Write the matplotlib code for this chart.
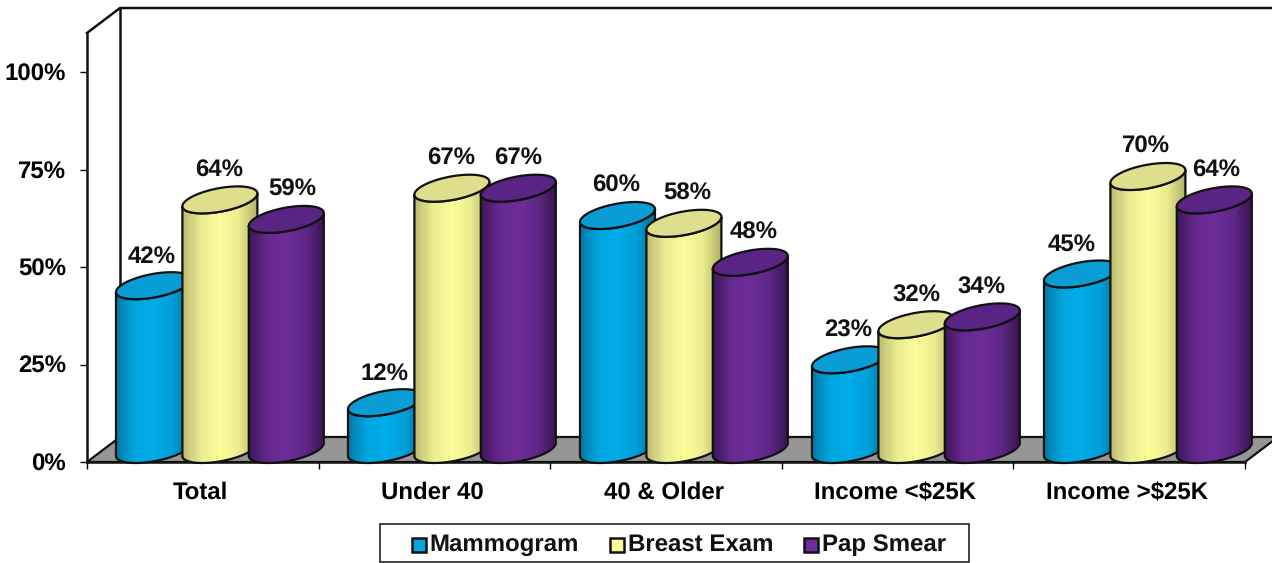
import numpy as np
import matplotlib
matplotlib.use("Agg")
import matplotlib.pyplot as plt
from matplotlib.colors import LinearSegmentedColormap
from matplotlib.path import Path
from matplotlib.patches import PathPatch, Polygon, Rectangle
from matplotlib.transforms import Affine2D

plt.rcParams["font.family"] = ["Liberation Sans", "DejaVu Sans"]
plt.rcParams["font.weight"] = "bold"
plt.rcParams["text.hinting"] = "no_hinting"
plt.rcParams["text.hinting_factor"] = 1

categories = ["Total", "Under 40", "40 & Older", "Income <$25K", "Income >$25K"]
series_names = ["Mammogram", "Breast Exam", "Pap Smear"]
mammogram = [42, 12, 60, 23, 45]
breast_exam = [64, 67, 58, 32, 70]
pap_smear = [59, 67, 48, 34, 64]
y_ticks = [0, 25, 50, 75, 100]
y_tick_labels = ["0%", "25%", "50%", "75%", "100%"]

W, H = 1272, 563
LEFT, RIGHT, BASE, TOP = 87, 1245, 462, 33
X_PX = (RIGHT - LEFT) / 5        # pixels per category
Y_PX = (BASE - TOP) / 110        # pixels per percent
GROUP_PX = 232

GRADS = {
    "Mammogram": ["#0478A8", "#00A6E0", "#00ACE8", "#00A0D8", "#056E9C"],
    "Breast Exam": ["#B9B970", "#ECEC92", "#FCFC9A", "#EEEE90", "#B4B46C"],
    "Pap Smear": ["#40185C", "#662A90", "#6E2C9A", "#5E2888", "#38144F"],
}
TOPS = {"Mammogram": "#0A9CD4", "Breast Exam": "#DEDE8C", "Pap Smear": "#5A2484"}
SWATCH = {"Mammogram": "#00A6E0", "Breast Exam": "#FCFC9A", "Pap Smear": "#6E2C9A"}
# small horizontal label shifts seen in the original, in pixels
LABEL_SHIFT = [[0, 1, 7], [0, 1, 1], [0, 5, 5], [0, 2, 1], [-8, 0, 3]]


def ellipse_xy(cx, cy, t):
    x = cx + (33 * np.cos(t) + 17.8 * np.sin(t)) / X_PX
    y = cy + 13.5 * np.sin(t) / Y_PX
    return x, y


def draw_cylinder(ax, x0, val, name, z):
    cx = x0 + 37.5 / X_PX
    off = 12.5 / Y_PX
    t_r = np.arctan2(17.8, 33)
    front = np.linspace(t_r + np.pi, t_r + 2 * np.pi, 60)
    bx, by = ellipse_xy(cx, off, front)
    tx, ty = ellipse_xy(cx, val + off, front[::-1])
    verts = np.vstack([np.c_[bx, by], np.c_[tx, ty], [bx[0], by[0]]])
    codes = [Path.MOVETO] + [Path.LINETO] * (len(verts) - 2) + [Path.CLOSEPOLY]
    body = PathPatch(Path(verts, codes), fc="none", ec="#111111", lw=1.6,
                     zorder=z + 0.2, clip_on=False)
    ax.add_patch(body)

    cmap = LinearSegmentedColormap.from_list(name, GRADS[name])
    grad = np.linspace(0, 1, 128).reshape(1, -1)
    im = ax.imshow(grad, cmap=cmap, aspect="auto", zorder=z, interpolation="bilinear",
                   extent=(x0, x0 + 75 / X_PX, -3, val + 2 * off + 3))
    im.set_clip_path(body)
    im.set_clip_box(fig.bbox)

    t = np.linspace(0, 2 * np.pi, 120)
    ex, ey = ellipse_xy(cx, val + off, t)
    ax.add_patch(Polygon(np.c_[ex, ey], closed=True, fc=TOPS[name], ec="#111111",
                         lw=1.6, zorder=z + 0.3, clip_on=False))


fig = plt.figure(figsize=(W / 100, H / 100), dpi=100, facecolor="white")
ax = fig.add_axes([LEFT / W, 1 - BASE / H, (RIGHT - LEFT) / W, (BASE - TOP) / H])

dx, dy = 33 / X_PX, 25 / Y_PX

# floor and back wall
ax.add_patch(Polygon([(0, 0), (dx, dy), (5 + dx, dy), (5, 0)], closed=True, fc="#969696",
                     ec="#111111", lw=1.6, zorder=1, clip_on=False))
ax.plot([dx, dx], [dy, 110 + dy], color="#111111", lw=1.8, zorder=1, clip_on=False)
ax.plot([0, dx, 5 + dx], [110, 110 + dy, 110 + dy], color="#111111", lw=1.8, zorder=1,
        clip_on=False)

z = 3
for i in range(len(categories)):
    for j, (name, vals) in enumerate(zip(series_names, [mammogram, breast_exam, pap_smear])):
        x0 = (i * GROUP_PX + 29 + j * 66.4) / X_PX
        draw_cylinder(ax, x0, vals[i], name, z)
        z += 1
        ax.text(x0 + (36 + LABEL_SHIFT[i][j]) / X_PX, vals[i] + 42 / Y_PX, f"{vals[i]}%",
                ha="center", va="center", fontsize=17.5, fontweight="bold",
                color="#111111", zorder=100)

ax.set_xlim(0, 5)
ax.set_ylim(0, 110)
ax.patch.set_alpha(0)
for s in ["top", "right"]:
    ax.spines[s].set_visible(False)
for s in ["left", "bottom"]:
    ax.spines[s].set_linewidth(1.8)
    ax.spines[s].set_color("#111111")
    ax.spines[s].set_zorder(2)

ax.set_yticks(y_ticks)
ax.set_yticklabels(y_tick_labels, fontsize=17.3, fontweight="bold")
ax.tick_params(axis="y", length=5, width=1, pad=10)
ax.set_xticks(range(6))
ax.set_xticklabels([])
ax.tick_params(axis="x", which="major", length=5, width=1)
ax.set_xticks(np.arange(5) + 0.5 - 0.01, minor=True)
ax.set_xticklabels(categories, minor=True, fontsize=17, fontweight="bold")
ax.tick_params(axis="x", which="minor", length=0, pad=14)

# legend box, laid out by hand in pixels
px = Affine2D().scale(1 / W, -1 / H).translate(0, 1) + fig.transFigure
fig.add_artist(Rectangle((380, 524), 589, 38, fc="white", ec="#222222", lw=1.2, transform=px))
for name, sx, tx in zip(series_names, [412, 610, 804], [429, 628, 822]):
    fig.add_artist(Rectangle((sx, 538), 14, 14, fc=SWATCH[name], ec="#111111", lw=1.8, transform=px))
    fig.text(tx, 545, name, transform=px, ha="left", va="center", fontsize=17,
             fontweight="bold", color="#111111")

fig.savefig("out.png", dpi=100, facecolor="white")
